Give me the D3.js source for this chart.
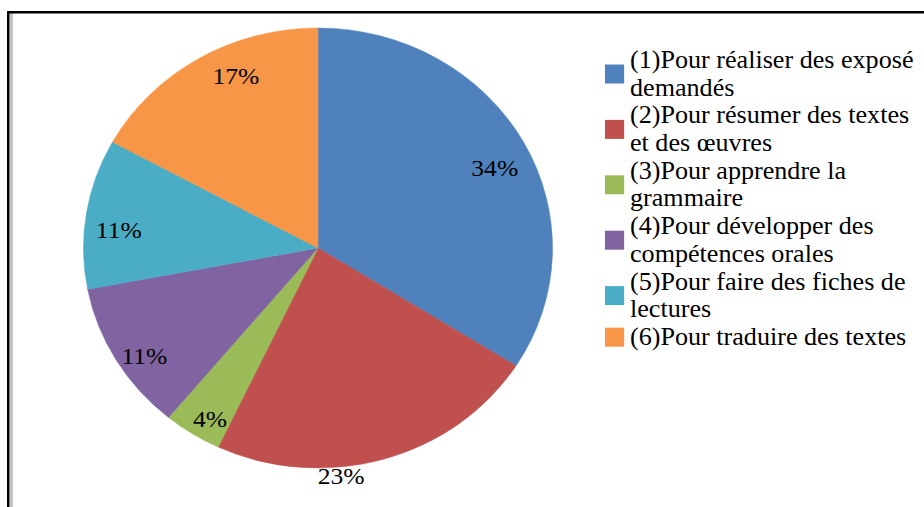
<!DOCTYPE html>
<html>
<head>
<meta charset="utf-8">
<script src="https://cdn.jsdelivr.net/npm/d3@7"></script>
<style>
  body { margin: 0; background: #fff; }
</style>
</head>
<body>
<script>
var categories = [
    "(1)Pour réaliser des exposé\ndemandés",
    "(2)Pour résumer des textes\net des œuvres",
    "(3)Pour apprendre la\ngrammaire",
    "(4)Pour développer des\ncompétences orales",
    "(5)Pour faire des fiches de\nlectures",
    "(6)Pour traduire des textes"
];
var values = [34, 23, 4, 11, 11, 17];
var colors = ["#4F81BD", "#C0504D", "#9BBB59", "#8064A2", "#4BACC6", "#F79646"];

var width = 924,
    height = 507,
    stretch = 1.066; // the picture is a bit wider than tall

var serif = "'Liberation Serif'";

var svg = d3.select("body").append("svg")
    .attr("width", width)
    .attr("height", height);

// frame (top and left edges only)
svg.append("rect").attr("x", 10).attr("y", 13).attr("width", 3).attr("height", height - 13).attr("fill", "#c4c4c4");
svg.append("rect").attr("x", 7).attr("y", 11).attr("width", 2.5).attr("height", height - 11).attr("fill", "#000");
svg.append("rect").attr("x", 7).attr("y", 11).attr("width", width - 7).attr("height", 2.5).attr("fill", "#000");

var g = svg.append("g")
    .attr("transform", "scale(" + stretch + ",1)");

var cx = 318 / stretch,
    cy = 248,
    radius = 220;

var pie = d3.pie().sort(null).value(function(d) { return d; });
var arcs = pie(values);

var arc = d3.arc().innerRadius(0).outerRadius(radius);

var chart = g.append("g")
    .attr("transform", "translate(" + cx + "," + cy + ")");

chart.selectAll("path")
    .data(arcs)
    .enter().append("path")
    .attr("d", arc)
    .attr("fill", function(d, i) { return colors[i]; })
    .attr("stroke", function(d, i) { return colors[i]; })
    .attr("stroke-width", 0.5);

// labels: inside near the rim, the big bottom one sits just outside
function labelPos(d, i) {
    var a = (d.startAngle + d.endAngle) / 2,
        r = radius * 0.86,
        shift = 11;
    if (Math.cos(a) > 0.7) { a += 0.115; shift = 0; }
    if (i == 1) {
        a = d.endAngle - 0.37 * (d.endAngle - d.startAngle);
        r = radius * 1.04;
        shift = 0;
    }
    return [r * Math.sin(a), -r * Math.cos(a) + shift];
}

chart.selectAll(".lbl")
    .data(arcs)
    .enter().append("text")
    .attr("class", "lbl")
    .attr("transform", function(d, i) { return "translate(" + labelPos(d, i) + ")"; })
    .attr("dy", "0.35em")
    .attr("text-anchor", "middle")
    .style("font-family", serif)
    .style("font-size", "24px")
    .attr("fill", "#000")
    .text(function(d) { return d.value + "%"; });

// legend
var legX = 567.5,
    legY = 68,
    lineH = 27.7,
    fs = 24.5;

var line = 0;
categories.forEach(function(c, i) {
    var lines = c.split("\n");
    var item = g.append("g");
    var first = legY + line * lineH;
    var mid = first + (lines.length - 1) * lineH / 2 - fs * 0.32;
    item.append("rect")
        .attr("x", legX)
        .attr("y", mid - 9.5)
        .attr("width", 18)
        .attr("height", 19)
        .attr("fill", colors[i]);
    lines.forEach(function(l, k) {
        item.append("text")
            .attr("x", legX + 23.5)
            .attr("y", first + k * lineH)
            .style("font-family", serif)
            .style("font-size", fs + "px")
            .attr("fill", "#000")
            .text(l);
    });
    line += lines.length;
});
</script>
</body>
</html>
